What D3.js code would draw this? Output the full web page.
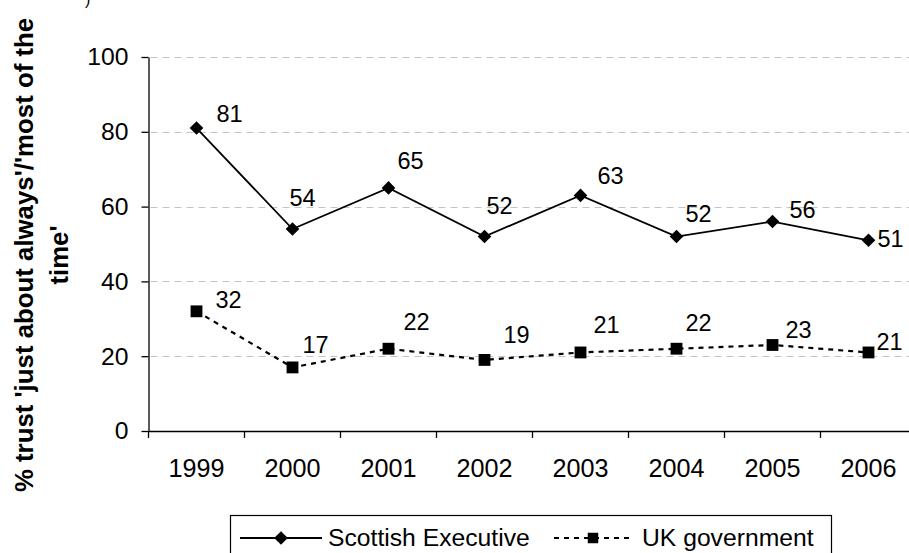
<!DOCTYPE html>
<html>
<head>
<meta charset="utf-8">
<script src="https://cdn.jsdelivr.net/npm/d3@7/dist/d3.min.js"></script>
<style>
  html, body { margin: 0; padding: 0; background: #fff; }
  svg { display: block; font-family: "Liberation Sans", Arial, sans-serif; }
</style>
</head>
<body>
<svg id="chart" width="909" height="553"></svg>
<script>
// Survey years and trust levels (%)
const years = ["1999", "2000", "2001", "2002", "2003", "2004", "2005", "2006"];
const scottishExecutive = [81, 54, 65, 52, 63, 52, 56, 51];
const ukGovernment = [32, 17, 22, 19, 21, 22, 23, 21];
const yTicks = [0, 20, 40, 60, 80, 100];
const seriesNames = ["Scottish Executive", "UK government"];

// Hand-placed value label offsets [dx, dy] from each marker
const seLabelOffsets = [[20, -6], [-3, -23], [9, -19], [2, -23], [17, -11], [9, -15], [17, -4], [9, 7]];
const ukLabelOffsets = [[19, -3], [10, -14], [15, -19], [19, -17], [13, -19], [9, -18], [13, -7], [8, -2]];

const svg = d3.select("#chart");
const plotLeft = 148.5, plotRight = 916.5, plotTop = 57, plotBottom = 431;

const x = d3.scaleBand().domain(years).range([plotLeft, plotRight]);
const y = d3.scaleLinear().domain([0, 100]).range([plotBottom, plotTop]);
const cx = d => x(d) + x.bandwidth() / 2;

// Horizontal gridlines
svg.append("g")
  .selectAll("line")
  .data(yTicks.filter(t => t > 0))
  .join("line")
  .attr("x1", plotLeft + 2).attr("x2", 909)
  .attr("y1", d => Math.round(y(d)) + 0.5).attr("y2", d => Math.round(y(d)) + 0.5)
  .attr("stroke", "#c4c4c4")
  .attr("stroke-width", 1)
  .attr("stroke-dasharray", "7,5");

// Y axis
const yAxis = svg.append("g")
  .attr("transform", `translate(${plotLeft},0)`)
  .call(d3.axisLeft(y).tickValues(yTicks).tickSize(7).tickPadding(13).tickSizeOuter(0));
yAxis.select(".domain").attr("stroke", "#000").attr("stroke-width", 1.3);
yAxis.selectAll(".tick line").attr("stroke", "#000").attr("stroke-width", 1.3);
yAxis.selectAll("text").attr("font-size", 24.7).attr("fill", "#000")
  .attr("font-family", "'Liberation Sans', Arial, sans-serif");

// X axis: labels centred in each band, tick marks on band boundaries
const xAxis = svg.append("g")
  .attr("transform", `translate(0,${plotBottom})`)
  .call(d3.axisBottom(x).tickSize(0).tickPadding(28.5).tickSizeOuter(0));
xAxis.select(".domain").attr("stroke", "#000").attr("stroke-width", 1.3);
xAxis.selectAll("text").attr("font-size", 25.2).attr("fill", "#000")
  .attr("font-family", "'Liberation Sans', Arial, sans-serif");
xAxis.append("g")
  .selectAll("line")
  .data(years.concat(["end"]))
  .join("line")
  .attr("x1", (d, i) => plotLeft + i * x.step())
  .attr("x2", (d, i) => plotLeft + i * x.step())
  .attr("y1", 0).attr("y2", 7)
  .attr("stroke", "#000").attr("stroke-width", 1.3);

// Y axis title (two lines, rotated)
const title = svg.append("text")
  .attr("transform", "translate(0,255) rotate(-90)")
  .attr("text-anchor", "middle")
  .attr("font-weight", "bold")
  .attr("font-size", 25.8)
  .attr("fill", "#000");
title.append("tspan").attr("x", 0).attr("y", 33).text("% trust 'just about always'/'most of the");
title.append("tspan").attr("x", 0).attr("y", 68).text("time'");

// Small trailing glyph at the top edge
svg.append("text").attr("x", 85).attr("y", 5).attr("font-size", 16).attr("fill", "#000").text(")");

// Marker shapes
const diamond = d3.symbol().type(d3.symbolDiamond2).size(118);
const square = d3.symbol().type(d3.symbolSquare).size(140);

function drawSeries(values, dash, symbolGen, offsets) {
  const pts = years.map((yr, i) => [cx(yr), y(values[i])]);
  svg.append("path")
    .datum(pts)
    .attr("d", d3.line())
    .attr("fill", "none")
    .attr("stroke", "#000")
    .attr("stroke-width", dash ? 2.2 : 1.8)
    .attr("stroke-dasharray", dash || null);
  svg.append("g")
    .selectAll("path")
    .data(pts)
    .join("path")
    .attr("d", symbolGen)
    .attr("transform", d => `translate(${d[0]},${d[1]})`)
    .attr("fill", "#000");
  svg.append("g")
    .selectAll("text")
    .data(values)
    .join("text")
    .attr("x", (d, i) => pts[i][0] + offsets[i][0])
    .attr("y", (d, i) => pts[i][1] + offsets[i][1])
    .attr("font-size", 23.5)
    .attr("fill", "#000")
    .text(d => d);
}

drawSeries(scottishExecutive, null, diamond, seLabelOffsets);
drawSeries(ukGovernment, "5,5", square, ukLabelOffsets);

// Legend
const legend = svg.append("g");
legend.append("rect")
  .attr("x", 230.5).attr("y", 515.5).attr("width", 601).attr("height", 60)
  .attr("fill", "#fff").attr("stroke", "#000").attr("stroke-width", 1.2);
const ly = 538;
legend.append("line").attr("x1", 240).attr("x2", 322).attr("y1", ly).attr("y2", ly)
  .attr("stroke", "#000").attr("stroke-width", 1.8);
legend.append("path").attr("d", diamond).attr("transform", `translate(281,${ly})`).attr("fill", "#000");
legend.append("text").attr("x", 328).attr("y", ly + 8).attr("font-size", 24.7).attr("fill", "#000").text(seriesNames[0]);
legend.append("line").attr("x1", 554).attr("x2", 634).attr("y1", ly).attr("y2", ly)
  .attr("stroke", "#000").attr("stroke-width", 2.2).attr("stroke-dasharray", "5,5");
legend.append("path").attr("d", d3.symbol().type(d3.symbolSquare).size(110))
  .attr("transform", `translate(593,${ly})`).attr("fill", "#000");
legend.append("text").attr("x", 642).attr("y", ly + 8).attr("font-size", 24.7).attr("fill", "#000").text(seriesNames[1]);
</script>
</body>
</html>
